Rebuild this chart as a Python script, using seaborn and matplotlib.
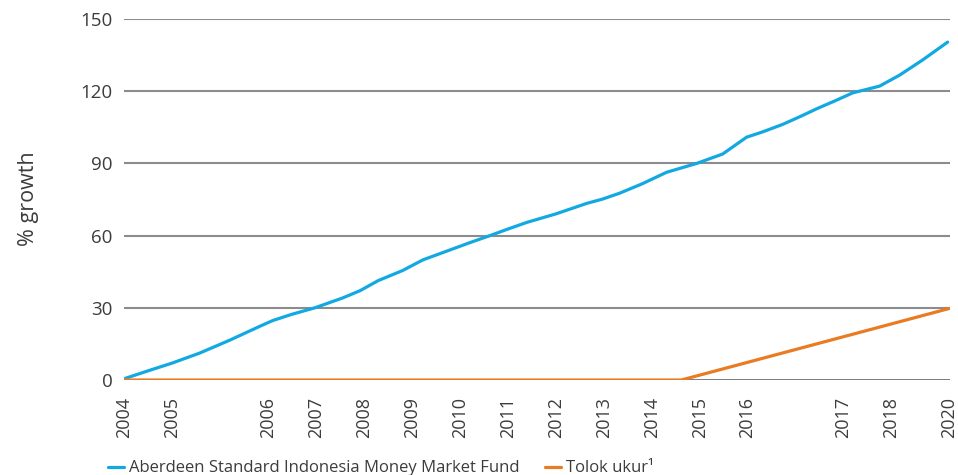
import matplotlib
matplotlib.use("Agg")
import matplotlib.pyplot as plt
import seaborn as sns
import pandas as pd

# x is measured in "label steps" along the axis (labels are not evenly spaced)
tick_pos = [0, 1, 3, 4, 5, 6, 7, 8, 9, 10, 11, 12, 13, 15, 16, 17.2]
tick_labels = ["2004", "2005", "2006", "2007", "2008", "2009", "2010", "2011",
               "2012", "2013", "2014", "2015", "2016", "2017", "2018", "2020"]

fund_x = [0.0, 0.5, 1.0, 1.58, 2.2, 2.83, 3.1, 3.5, 3.98, 4.56, 4.92, 5.3, 5.81,
          6.23, 6.79, 7.2, 7.63, 8.0, 8.4, 9.0, 9.65, 9.98, 10.33, 10.8, 11.31,
          11.94, 12.48, 12.98, 13.3, 13.73, 14.1, 14.44, 14.8, 15.19, 15.75,
          16.17, 16.65, 17.17]
fund_y = [0.5, 3.8, 7.0, 11.2, 16.5, 22.3, 24.7, 27.3, 30.0, 34.1, 37.1, 41.3, 45.5,
          49.9, 54.0, 57.0, 60.0, 62.7, 65.5, 69.0, 73.4, 75.2, 77.6, 81.5, 86.3,
          90.0, 93.9, 100.9, 103.0, 106.2, 109.5, 112.7, 115.8, 119.3, 122.1,
          126.7, 133.0, 140.4]

bench_x = [0.0, 11.62, 17.2]
bench_y = [0.0, 0.0, 29.7]

fund_name = "Aberdeen Standard Indonesia Money Market Fund"
bench_name = "Tolok ukur\u00b9"

df = pd.concat([
    pd.DataFrame({"x": fund_x, "y": fund_y, "series": fund_name}),
    pd.DataFrame({"x": bench_x, "y": bench_y, "series": bench_name}),
])

sns.set_style("white")
plt.rcParams['font.family'] = ['Open Sans', 'DejaVu Sans']
text_col = '#3c3c3c'

fig = plt.figure(figsize=(9.58, 4.75), dpi=100)
ax = fig.add_axes([0.1294, 0.2, 0.8623, 0.76])

# gridlines
for v in [30, 60, 90, 120, 150]:
    ax.axhline(v, color='#8c8c8c', linewidth=1.5, zorder=0)
ax.axhline(0, color='#555555', linewidth=1.8, zorder=0)

palette = {fund_name: '#12a9e3', bench_name: '#e97c22'}
sns.lineplot(data=df, x="x", y="y", hue="series", palette=palette,
             linewidth=2.3, ax=ax, legend=False, sort=False)

ax.set_xlim(0, 17.22)
ax.set_ylim(0, 150)
ax.set_xticks(tick_pos)
ax.set_xticklabels(tick_labels, rotation=90, fontsize=13, color=text_col)
ax.set_yticks([0, 30, 60, 90, 120, 150])
ax.set_yticklabels(["0", "30", "60", "90", "120", "150"], fontsize=13.5, color=text_col)
ax.tick_params(axis='both', length=0)
ax.tick_params(axis='y', pad=8)
ax.tick_params(axis='x', pad=12)
ax.set_xlabel("")
ax.set_ylabel("")
for s in ax.spines.values():
    s.set_visible(False)

fig.text(0.03, 0.582, "% growth", rotation=90, fontsize=15.5, color=text_col,
         ha='center', va='center')

handles = [plt.Line2D([], [], color=palette[fund_name], linewidth=2.3),
           plt.Line2D([], [], color=palette[bench_name], linewidth=2.3)]
fig.legend(handles, [fund_name, bench_name], loc='lower left',
           bbox_to_anchor=(0.102, -0.024), ncol=2, frameon=False, borderpad=0.1,
           fontsize=12, handlelength=0.95, handletextpad=0.3,
           columnspacing=1.55, labelcolor=text_col)

fig.savefig("out.png", dpi=100)
